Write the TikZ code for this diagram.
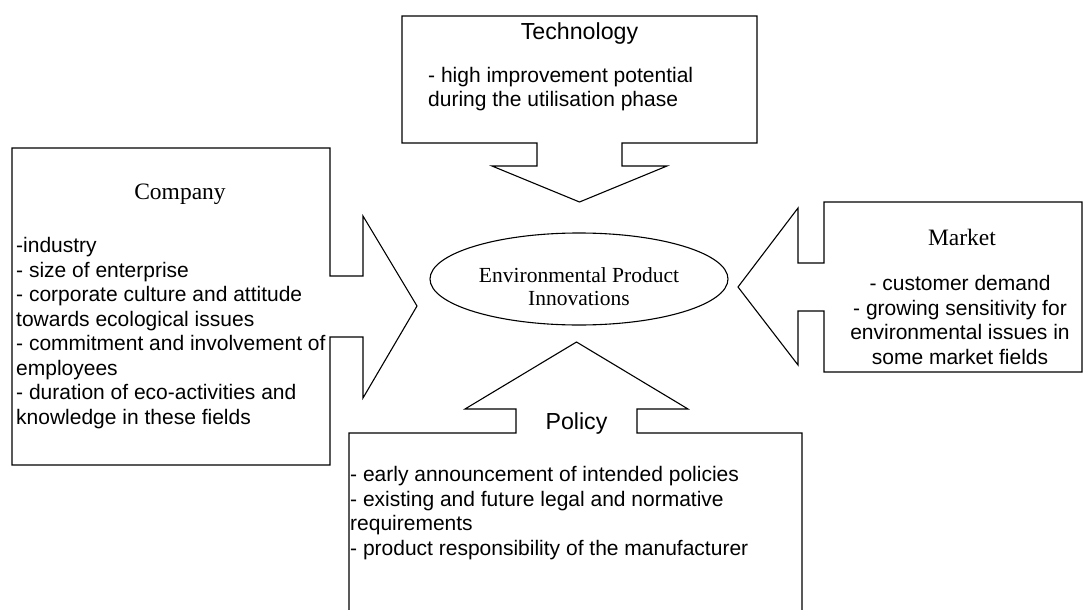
\documentclass[tikz,border=0pt]{standalone}
\usepackage{fontspec}
\setmainfont{Liberation Serif}
\newfontfamily\arialf{Liberation Sans}
\usetikzlibrary{shapes.geometric}
\begin{document}
\begin{tikzpicture}[x=1pt,y=-1pt,
  callout/.style={draw=black, line width=1.1pt, line join=miter},
  body/.style={inner sep=0pt, font=\arialf\fontsize{21}{24.5}\selectfont},
  atitle/.style={inner sep=0pt, font=\arialf\fontsize{23.2}{27}\selectfont, anchor=base},
  stitle/.style={inner sep=0pt, font=\fontsize{23.5}{27}\selectfont, anchor=base},
]
\useasboundingbox (0,0) rectangle (1084,610);

% Technology callout (arrow pointing down)
\draw[callout] (402,16) -- (757,16) -- (757,143) -- (622,143) -- (622,166) -- (667,166)
  -- (579.5,202) -- (492,166) -- (537,166) -- (537,143) -- (402,143) -- cycle;
\node[atitle] (techtitle) at (579.5,40) {Technology};
\node[body, anchor=base west] (techtext) at (428,82)
  {\parbox[t]{320pt}{\raggedright - high improvement potential\\during the utilisation phase}};

% Company callout (arrow pointing right)
\draw[callout] (12,148) -- (330,148) -- (330,276) -- (363,276) -- (363,216) -- (417,306)
  -- (363,398) -- (363,337) -- (330,337) -- (330,465) -- (12,465) -- cycle;
\node[stitle] (comptitle) at (180,199) {Company};
\node[body, anchor=base west] (comptext) at (16,252.5)
  {\parbox[t]{340pt}{\raggedright -industry\\- size of enterprise\\- corporate culture and attitude\\towards ecological issues\\- commitment and involvement of\\employees\\- duration of eco-activities and\\knowledge in these fields}};

% Market callout (arrow pointing left)
\draw[callout] (824,202) -- (1082,202) -- (1082,372) -- (824,372) -- (824,311) -- (798,311)
  -- (798,365) -- (738,287) -- (798,208) -- (798,263) -- (824,263) -- cycle;
\node[stitle] (mkttitle) at (962,245) {Market};
\node[body, anchor=base] (mkttext) at (960,290.5)
  {\parbox[t]{260pt}{\centering - customer demand\\- growing sensitivity for\\environmental issues in\\some market fields}};

% Policy callout (arrow pointing up), box runs off the bottom
\draw[callout] (349,612) -- (349,433) -- (516,433) -- (516,409) -- (465,409) -- (576.5,342)
  -- (688,409) -- (637,409) -- (637,433) -- (802,433) -- (802,612);
\node[atitle] (poltitle) at (576.5,429) {Policy};
\node[body, anchor=base west] (poltext) at (350,481.5)
  {\parbox[t]{460pt}{\raggedright - early announcement of intended policies\\- existing and future legal and normative\\requirements\\- product responsibility of the manufacturer}};

% Central ellipse
\node[draw, line width=1.1pt, ellipse, minimum width=298pt, minimum height=92pt, inner sep=0pt] (epi) at (579,279) {};
\node[inner sep=0pt, font=\fontsize{21.5}{23}\selectfont, anchor=base] (epitext) at (579,282)
  {\parbox[t]{260pt}{\centering Environmental Product\\Innovations}};
\end{tikzpicture}
\end{document}
